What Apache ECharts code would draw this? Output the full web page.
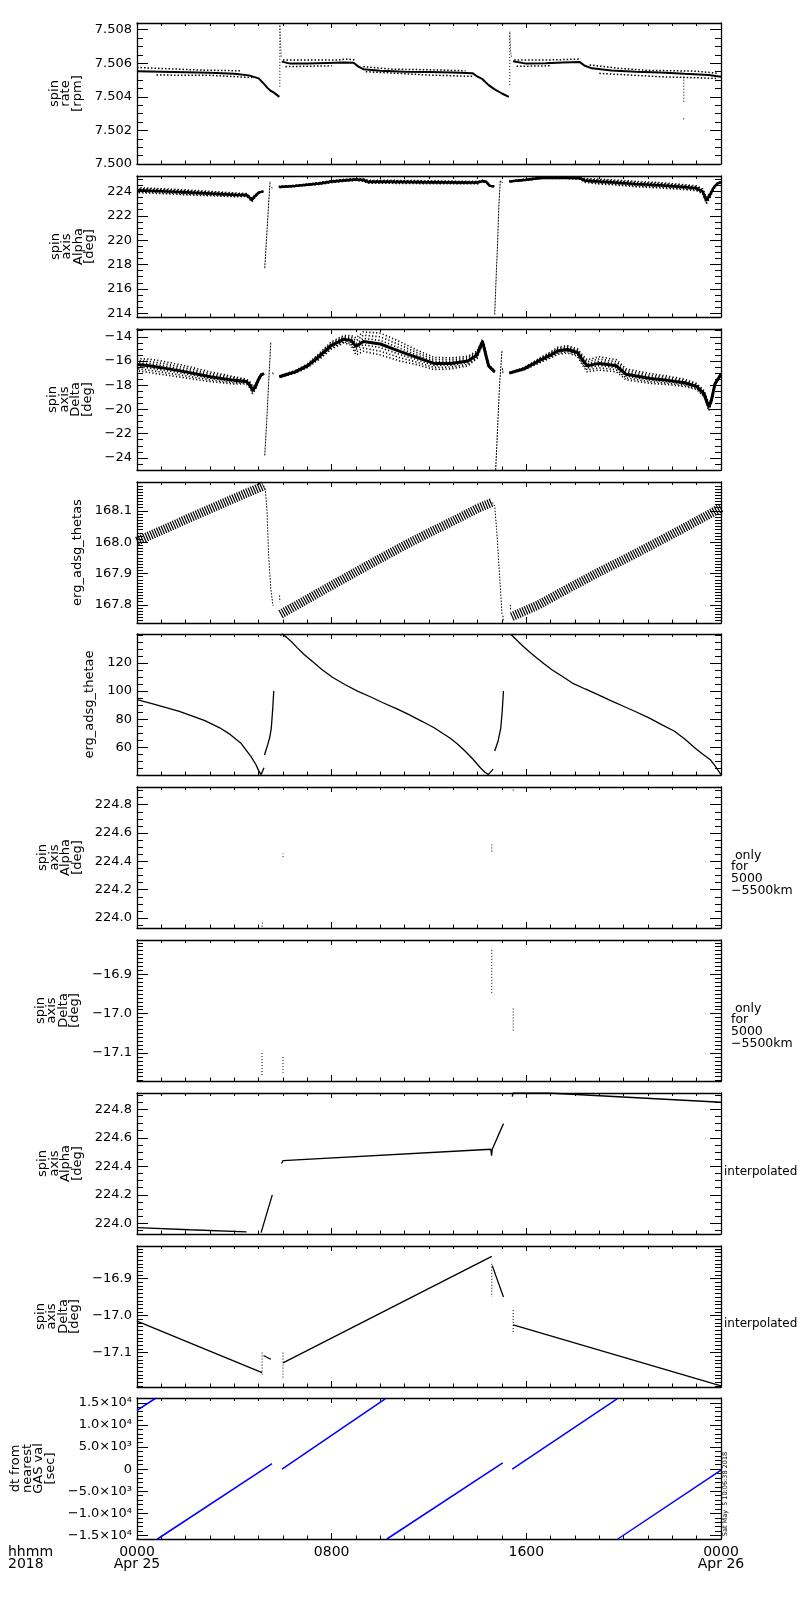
<!DOCTYPE html>
<html>
<head>
<meta charset="utf-8">
<script src="https://cdn.jsdelivr.net/npm/echarts@6/dist/echarts.min.js"></script>
<style>
html, body { margin: 0; padding: 0; background: #fff; }
#chart { width: 800px; height: 1600px; }
</style>
</head>
<body>
<div id="chart"></div>
<script>
// x axis is hours since 0000 Apr 25 2018
var xTickValues = [0, 8, 16, 24];
var xTickLabels = ['0000\nApr 25', '0800', '1600', '0000\nApr 26'];

// panel 1: spin rate [rpm]
var rateTicks = [7.500, 7.502, 7.504, 7.506, 7.508];
var rateMain = [
  [0, 7.50553], [1, 7.5055], [2, 7.50547], [3, 7.50543], [4, 7.50537], [4.6, 7.50528], [5.0, 7.5051],
  [5.2, 7.5048], [5.35, 7.50455], [5.5, 7.50435], [5.6, 7.50428], [5.85, 7.504],
  [5.86, null],
  [5.95, 7.5061], [6.3, 7.50598], [7, 7.50598], [7.8, 7.50602], [8.5, 7.50605], [8.9, 7.50603], [9.1, 7.5058],
  [9.3, 7.50565], [10, 7.50555], [11, 7.5055], [12, 7.50548], [13, 7.50545], [13.8, 7.5054], [14.0, 7.5052],
  [14.2, 7.50505], [14.45, 7.5047], [14.7, 7.50445], [15.0, 7.5042], [15.28, 7.504],
  [15.3, null],
  [15.45, 7.50612], [16, 7.50598], [16.8, 7.506], [17.5, 7.50605], [18.2, 7.50607], [18.4, 7.50585],
  [18.7, 7.5057], [19.5, 7.50557], [20.5, 7.5055], [21.5, 7.50545], [22.5, 7.50537], [23.5, 7.5053], [24, 7.5052]
];
var rateHi = [
  [0, 7.50575], [1.2, 7.50568], [2.5, 7.5056], [4.3, 7.50555], [4.4, null],
  [6.0, 7.5062], [8.3, 7.5062], [8.6, 7.50625], [9.0, 7.5062], [9.1, null],
  [9.3, 7.5058], [10.5, 7.50565], [12.5, 7.5056], [13.5, 7.50555], [13.6, null],
  [15.5, 7.5062], [17, 7.5062], [18.2, 7.50625], [18.3, null],
  [18.6, 7.5059], [19.8, 7.5057], [21, 7.50558], [23, 7.50553], [23.9, 7.5054]
];
var rateLo = [
  [0.8, 7.5053], [3, 7.50528], [4.8, 7.50515], [4.9, null],
  [6.1, 7.5058], [8.0, 7.50585], [8.1, null],
  [9.4, 7.5055], [12, 7.5053], [13.8, 7.50522], [13.9, null],
  [15.6, 7.50582], [17, 7.50585], [17.1, null],
  [19, 7.5054], [21.5, 7.5052], [23.8, 7.5051]
];
var rateSpikes = [
  [5.87, 7.5046], [5.87, 7.5083], [5.9, 7.5072], [5.93, 7.5063], [5.96, null],
  [15.32, 7.5047], [15.32, 7.5079], [15.35, 7.5068], [15.4, 7.5063]
];
var rateOutlier = [[22.47, 7.5052], [22.47, 7.5036], [22.47, null], [22.47, 7.50272], [22.47, 7.50262]];

// panel 2: spin axis alpha [deg]; [hour, value, scatter half-width]
var alphaTicks = [214, 216, 218, 220, 222, 224];
var alphaBand = [
  [0, 224.1, 0.2], [1, 224.02, 0.2], [2, 223.92, 0.2], [3, 223.82, 0.18], [4, 223.72, 0.15], [4.5, 223.7, 0.12],
  [4.62, 223.5, 0.12], [4.72, 223.3, 0.15], [4.85, 223.6, 0.1], [5.0, 223.9, 0.05], [5.2, 224.0, 0.03],
  [5.23, null],
  [5.83, 224.35, 0.05], [6.5, 224.45, 0.05], [7, 224.55, 0.05], [7.5, 224.65, 0.08], [8, 224.8, 0.08],
  [8.5, 224.9, 0.08], [9, 224.97, 0.08], [9.3, 224.93, 0.1], [9.5, 224.78, 0.12], [10.5, 224.78, 0.12],
  [12, 224.75, 0.12], [13.5, 224.72, 0.1], [14.0, 224.72, 0.1], [14.2, 224.85, 0.05], [14.35, 224.78, 0.05],
  [14.5, 224.45, 0.03], [14.68, 224.4, 0.02],
  [14.69, null],
  [15.3, 224.8, 0.03], [15.6, 224.88, 0.05], [16, 224.95, 0.05], [16.6, 225.1, 0.05], [17.5, 225.12, 0.05],
  [18.2, 225.08, 0.08], [18.4, 224.9, 0.15], [19, 224.8, 0.2], [19.5, 224.75, 0.2], [20.5, 224.6, 0.22],
  [21.5, 224.5, 0.22], [22.5, 224.35, 0.2], [23, 224.25, 0.2], [23.25, 224.0, 0.2], [23.4, 223.25, 0.25],
  [23.55, 223.7, 0.2], [23.7, 224.3, 0.1], [23.85, 224.65, 0.05], [24, 224.75, 0.03]
];
var alphaSteep = [
  [5.25, 217.7], [5.35, 221.0], [5.43, 223.6], [5.47, 224.85], [5.5, null], [5.53, 224.35], [5.56, 224.25], [5.6, null],
  [14.7, 213.9], [14.75, 216.5], [14.82, 219.8], [14.87, 222.8], [14.93, 224.9], [14.95, null], [14.98, 224.8], [15.02, 224.7]
];

// panel 3: spin axis delta [deg]; [hour, value, scatter half-width]
var deltaTicks = [-24, -22, -20, -18, -16, -14];
var deltaBand = [
  [0, -16.3, 0.5], [0.5, -16.4, 0.55], [1, -16.55, 0.55], [2, -16.9, 0.5], [3, -17.3, 0.4], [4, -17.6, 0.3],
  [4.5, -17.7, 0.2], [4.65, -18.0, 0.25], [4.75, -18.4, 0.3], [4.85, -18.2, 0.2], [5.0, -17.5, 0.1],
  [5.1, -17.15, 0.05], [5.22, -17.05, 0.03],
  [5.3, null],
  [5.85, -17.3, 0.08], [6.5, -16.9, 0.1], [7, -16.4, 0.15], [7.5, -15.6, 0.25], [8, -14.7, 0.3], [8.5, -14.2, 0.3],
  [8.8, -14.3, 0.4], [9.0, -14.8, 0.7], [9.3, -14.4, 0.8], [10, -14.6, 0.9], [10.8, -15.2, 0.8], [11.5, -15.7, 0.6],
  [12.2, -16.2, 0.5], [12.9, -16.2, 0.45], [13.6, -16.0, 0.4], [13.97, -15.5, 0.3], [14.2, -14.4, 0.2],
  [14.35, -15.6, 0.15], [14.45, -16.4, 0.1], [14.7, -16.9, 0.05],
  [14.72, null],
  [15.3, -17.0, 0.05], [15.9, -16.65, 0.1], [16.6, -15.9, 0.2], [17.0, -15.5, 0.25], [17.3, -15.15, 0.3],
  [17.7, -15.05, 0.3], [18.1, -15.3, 0.3], [18.3, -15.9, 0.4], [18.5, -16.4, 0.5], [19.0, -16.2, 0.55],
  [19.7, -16.4, 0.5], [20.1, -17.1, 0.45], [21.1, -17.45, 0.4], [21.8, -17.6, 0.35], [22.5, -17.8, 0.3],
  [23.0, -18.1, 0.25], [23.3, -18.7, 0.25], [23.5, -19.8, 0.3], [23.6, -19.3, 0.2], [23.75, -17.9, 0.1], [24, -17.1, 0.05]
];
var deltaSteep = [
  [5.25, -23.8], [5.33, -21.0], [5.41, -17.8], [5.5, -14.4], [5.52, null], [5.57, -16.95], [5.6, -17.1], [5.65, null],
  [14.74, -25.0], [14.82, -21.5], [14.9, -18.0], [15.0, -15.1], [15.01, null], [15.02, -16.6], [15.04, -17.0]
];

// panel 4: erg_adsg_thetas
var thetasTicks = [167.8, 167.9, 168.0, 168.1];
var thetasBand = [
  [0, 168.003], [1, 168.037], [2, 168.072], [3, 168.106], [4, 168.14], [5, 168.173], [5.2, 168.18],
  [5.5, null],
  [5.9, 167.77], [7, 167.818], [8, 167.862], [9, 167.905], [10, 167.948], [11, 167.99], [12, 168.03],
  [13, 168.068], [14, 168.108], [14.6, 168.127],
  [15, null],
  [15.4, 167.762], [16.5, 167.8], [17.67, 167.85], [19, 167.905], [20.4, 167.96], [21.5, 168.005],
  [22.47, 168.045], [23.3, 168.08], [24, 168.11]
];
var thetasSteep = [
  [5.2, 168.18], [5.27, 168.17], [5.34, 168.105], [5.41, 167.957], [5.5, 167.85], [5.59, 167.797], [5.65, null],
  [5.86, 167.83], [5.87, 167.81], [5.88, null],
  [14.6, 168.127], [14.7, 168.115], [14.78, 168.04], [14.85, 167.955], [14.92, 167.87], [15.0, 167.77], [15.01, null],
  [15.04, 167.765], [15.05, 167.75], [15.1, null], [15.34, 167.8], [15.35, 167.785]
];

// panel 5: erg_adsg_thetae
var thetaeTicks = [60, 80, 100, 120];
var thetae = [
  [0, 93.9], [0.69, 90.8], [1.74, 85.6], [2.79, 79.0], [3.42, 73.7], [3.84, 69.0], [4.26, 63.1],
  [4.68, 53.6], [4.89, 47.6], [5.0, 43.4], [5.1, 40.6], [5.17, 41.8], [5.22, 45.5],
  [5.23, null],
  [5.24, 54.5], [5.35, 60.7], [5.45, 66.6], [5.52, 73.7], [5.58, 88], [5.62, 100],
  [5.7, null],
  [5.89, 139.6], [5.98, 140.6], [6.15, 138.2], [6.36, 134.9], [6.57, 131.1], [6.88, 125.9], [7.2, 121.2],
  [7.61, 115.2], [8.03, 109.8], [8.56, 104.5], [9.08, 99.8], [9.61, 95.8], [10.13, 91.5], [10.66, 87.5],
  [11.18, 83.2], [11.71, 78.5], [12.23, 73.7], [12.54, 70.2], [12.86, 66.6], [13.17, 62.4], [13.49, 57.2],
  [13.8, 51.7], [14.12, 45.3], [14.29, 42.5], [14.43, 40.6], [14.5, 41.5], [14.64, 44.5],
  [14.67, null],
  [14.7, 57.4], [14.84, 64.5], [14.95, 73.7], [15.01, 86], [15.06, 100],
  [15.2, null],
  [15.38, 140.1], [15.59, 136.5], [15.8, 133.0], [16.11, 128.2], [16.43, 123.5], [16.74, 119.2], [17.05, 115.2],
  [17.47, 110.5], [17.89, 105.7], [18.42, 101.5], [18.94, 97.5], [19.47, 93.2], [19.99, 89.2], [20.52, 85.1],
  [21.04, 80.9], [21.56, 76.1], [22.09, 71.4], [22.51, 65.9], [22.93, 59.5], [23.24, 55.3], [23.56, 51.2],
  [23.77, 46.5], [24, 40.6]
];

// panels 6-7: spin axis only for 5000-5500 km
var alphaOnlyTicks = [224.0, 224.2, 224.4, 224.6, 224.8];
var alphaOnly = [
  [5.14, 223.94], [5.16, 223.975], [5.2, null], [6.0, 224.43], [6.0, 224.455], [6.1, null],
  [14.58, 224.47], [14.58, 224.525], [14.6, null], [15.46, 224.9], [15.46, 224.925]
];
var deltaOnlyTicks = [-17.1, -17.0, -16.9];
var deltaOnly = [
  [5.14, -17.1], [5.14, -17.16], [5.2, null], [6.0, -17.11], [6.0, -17.15], [6.1, null],
  [14.58, -16.838], [14.58, -16.948], [14.6, null], [15.46, -16.987], [15.46, -17.044]
];

// panels 8-9: spin axis interpolated
var alphaInterp = [
  [0, 223.97], [2.16, 223.955], [4.5, 223.94],
  [4.8, null],
  [5.1, 223.935], [5.56, 224.2],
  [5.7, null],
  [5.94, 224.42], [6.0, 224.44], [14.54, 224.52], [14.57, 224.475],
  [14.6, 224.52], [15.06, 224.7],
  [15.2, null],
  [15.42, 224.89], [15.46, 224.915], [16.9, 224.915], [24, 224.85]
];
var deltaInterp = [
  [0, -17.015], [5.14, -17.154],
  [5.17, null],
  [5.2, -17.108], [5.5, -17.118],
  [5.7, null],
  [6.0, -17.128], [14.58, -16.84],
  [14.59, null],
  [14.6, -16.865], [15.06, -16.95],
  [15.2, null],
  [15.46, -17.025], [24, -17.19]
];
var deltaInterpDots = [
  [5.14, -17.1], [5.14, -17.165], [5.5, null], [6.0, -17.1], [6.0, -17.168], [6.5, null],
  [14.58, -16.86], [14.58, -16.95], [15, null], [15.46, -16.985], [15.46, -17.05]
];

// panel 10: dt from nearest GAS val [sec]
var dtTicks = [-15000, -10000, -5000, 0, 5000, 10000, 15000];
var dtTickLabels = ['\u22121.5\u00d710\u2074', '\u22121.0\u00d710\u2074', '\u22125.0\u00d710\u00b3', '0',
  '5.0\u00d710\u00b3', '1.0\u00d710\u2074', '1.5\u00d710\u2074'];
var dt = [
  [0, 13300], [0.78, 16100], [0.8, null],
  [0.84, -15800], [5.55, 1250], [5.7, null],
  [5.96, 0], [10.2, 15900], [10.22, null],
  [10.27, -15800], [15.03, 1400], [15.2, null],
  [15.42, 0], [19.73, 15900], [19.74, null],
  [19.76, -15800], [24, -200]
];

function minus(s) { return String(s).replace('-', '\u2212'); }

var panels = [
  {min: 7.500, max: 7.5084, ticks: rateTicks, minor: 0.0005, name: 'spin\nrate\n[rpm]', gap: 52,
    fmt: function (v) { return v.toFixed(3); }},
  {min: 213.7, max: 225.26, ticks: alphaTicks, minor: 0.5, name: 'spin\naxis\nAlpha\n[deg]', gap: 39,
    fmt: function (v) { return String(v); }},
  {min: -25.0, max: -13.36, ticks: deltaTicks, minor: 0.5, name: 'spin\naxis\nDelta\n[deg]', gap: 43,
    fmt: function (v) { return minus(v); }},
  {min: 167.742, max: 168.192, ticks: thetasTicks, minor: 0.01, name: 'erg_adsg_thetas', gap: 53,
    fmt: function (v) { return v.toFixed(1); }},
  {min: 40.3, max: 140.6, ticks: thetaeTicks, minor: 5, name: 'erg_adsg_thetae', gap: 40,
    fmt: function (v) { return String(v); }},
  {min: 223.93, max: 224.925, ticks: alphaOnlyTicks, minor: 0.05, name: 'spin\naxis\nAlpha\n[deg]', gap: 51,
    fmt: function (v) { return v.toFixed(1); }},
  {min: -17.171, max: -16.813, ticks: deltaOnlyTicks, minor: 0.01, name: 'spin\naxis\nDelta\n[deg]', gap: 55,
    fmt: function (v) { return minus(v.toFixed(1)); }},
  {min: 223.925, max: 224.915, ticks: alphaOnlyTicks, minor: 0.05, name: 'spin\naxis\nAlpha\n[deg]', gap: 51,
    fmt: function (v) { return v.toFixed(1); }},
  {min: -17.193, max: -16.812, ticks: deltaOnlyTicks, minor: 0.01, name: 'spin\naxis\nDelta\n[deg]', gap: 55,
    fmt: function (v) { return minus(v.toFixed(1)); }},
  {min: -15800, max: 16100, ticks: dtTicks, minor: 1000, name: 'dt from\nnearest\nGAS val\n[sec]', gap: 76,
    fmt: function (v) { return dtTickLabels[dtTicks.indexOf(v)]; }}
];
var tops = [23, 176, 329, 482, 634, 787, 940, 1093, 1246, 1398];

function minorValues(min, max, step) {
  var out = [];
  for (var k = Math.ceil(min / step - 1e-9); k * step <= max + 1e-9; k++) {
    out.push(+(k * step).toFixed(6));
  }
  return out;
}

var font = 'DejaVu Sans';
var axisLineStyle = {color: '#000', width: 1.3};
var tickStyle = {color: '#000', width: 1};

var option = {
  animation: false,
  backgroundColor: '#fff',
  textStyle: {fontFamily: font, color: '#000'},
  grid: [], xAxis: [], yAxis: [], series: [],
  graphic: []
};

panels.forEach(function (p, i) {
  option.grid.push({left: 137, width: 584, top: tops[i], height: 141});
  ['bottom', 'top'].forEach(function (pos) {
    var isBottom = pos === 'bottom';
    option.xAxis.push({
      gridIndex: i, type: 'value', position: pos, min: 0, max: 24, interval: 8,
      axisLine: {show: true, onZero: false, lineStyle: axisLineStyle},
      axisTick: {show: true, inside: true, length: isBottom ? 6 : 5, lineStyle: tickStyle},
      minorTick: {show: true, splitNumber: 8, length: isBottom ? 3.5 : 3, lineStyle: tickStyle},
      splitLine: {show: false},
      minorSplitLine: {show: false},
      axisLabel: {
        show: isBottom && i === panels.length - 1,
        margin: 7, fontSize: 14, lineHeight: 12, color: '#000', fontFamily: font,
        showMinLabel: true, showMaxLabel: true,
        formatter: function (v) { return xTickLabels[xTickValues.indexOf(v)]; }
      }
    });
  });
  var minors = minorValues(p.min, p.max, p.minor);
  ['left', 'right'].forEach(function (pos) {
    var isLeft = pos === 'left';
    option.yAxis.push({
      gridIndex: i, type: 'value', position: pos, min: p.min, max: p.max,
      name: isLeft ? p.name : '', nameLocation: 'middle', nameRotate: 90, nameGap: p.gap,
      nameTextStyle: {fontSize: 13, lineHeight: 11.5, color: '#000', fontFamily: font},
      axisLine: {show: true, onZero: false, lineStyle: axisLineStyle},
      axisTick: {show: true, inside: true, length: 11, customValues: p.ticks, lineStyle: tickStyle},
      axisLabel: {show: isLeft, customValues: p.ticks, formatter: p.fmt, margin: 5,
        fontSize: 13, color: '#000', fontFamily: font},
      splitLine: {show: false}
    });
    option.yAxis.push({
      gridIndex: i, type: 'value', position: pos, min: p.min, max: p.max,
      axisLine: {show: false, onZero: false},
      axisTick: {show: true, inside: true, length: 6, customValues: minors, lineStyle: tickStyle},
      axisLabel: {show: false},
      splitLine: {show: false}
    });
  });
});

function line(i, data, style) {
  return {
    type: 'line', xAxisIndex: 2 * i, yAxisIndex: 4 * i, data: data,
    symbol: 'none', showSymbol: false, connectNulls: false, silent: true,
    lineStyle: Object.assign({color: '#000', width: 1}, style)
  };
}
function offsetLine(data, k) {
  return data.map(function (d) {
    return d[1] == null ? [d[0], null] : [d[0], d[1] + k * d[2]];
  });
}
// scattered points around a dense core: dotted rows at fractions of the read half-width
function scatterBand(i, data, core) {
  var out = [];
  [[1, 0], [-1, 1.5], [0.66, 0.8], [-0.66, 2.2], [0.33, 1.2], [-0.33, 0.4]].forEach(function (lv) {
    out.push(line(i, offsetLine(data, lv[0]), {width: 1.6, type: [1.2, 2.2], dashOffset: lv[1]}));
  });
  out.push(line(i, data.map(function (d) { return [d[0], d[1]]; }), {width: core}));
  return out;
}

var dotted = [1, 2];
option.series = [].concat(
  line(0, rateHi, {width: 1.5, type: [1.5, 2]}),
  line(0, rateLo, {width: 1.5, type: [1.5, 2]}),
  line(0, rateMain, {width: 2}),
  line(0, rateSpikes, {width: 1, type: dotted}),
  line(0, rateOutlier, {width: 1, type: dotted}),
  scatterBand(1, alphaBand, 2.5),
  line(1, alphaSteep, {width: 1, type: [2, 1]}),
  scatterBand(2, deltaBand, 3),
  line(2, deltaSteep, {width: 1, type: [2, 1]}),
  line(3, thetasBand, {width: 9, type: [1.2, 1.3]}),
  line(3, thetasSteep, {width: 1, type: [1.5, 1.5]}),
  line(4, thetae, {width: 1.3}),
  line(5, alphaOnly, {width: 1, type: dotted}),
  line(6, deltaOnly, {width: 1, type: dotted}),
  line(7, alphaInterp, {width: 1.3}),
  line(8, deltaInterp, {width: 1.3}),
  line(8, deltaInterpDots, {width: 1, type: dotted}),
  line(9, dt, {width: 1.5, color: '#0000ff'})
);

var noteStyle = {fontSize: 12.5, fontFamily: font, lineHeight: 11.7, fill: '#000'};
option.graphic = [
  {type: 'text', left: 731, top: 849, style: Object.assign({text: ' only\nfor\n5000\n\u22125500km'}, noteStyle)},
  {type: 'text', left: 731, top: 1002, style: Object.assign({text: ' only\nfor\n5000\n\u22125500km'}, noteStyle)},
  {type: 'text', left: 724, top: 1166, style: Object.assign({text: 'interpolated'}, noteStyle, {fontSize: 12})},
  {type: 'text', left: 724, top: 1318, style: Object.assign({text: 'interpolated'}, noteStyle, {fontSize: 12})},
  {type: 'text', left: 8, top: 1545, style: {text: 'hhmm\n2018', fontSize: 14, lineHeight: 12, fontFamily: font, fill: '#000'}},
  {type: 'text', x: 725, y: 1494, rotation: Math.PI / 2,
    style: {text: 'Sat May  5 10:06:38 2018', fontSize: 6.5, fontFamily: font, fill: '#000', align: 'center', verticalAlign: 'middle'}}
];

var chart = echarts.init(document.getElementById('chart'), null, {renderer: 'canvas'});
chart.setOption(option);
</script>
</body>
</html>
